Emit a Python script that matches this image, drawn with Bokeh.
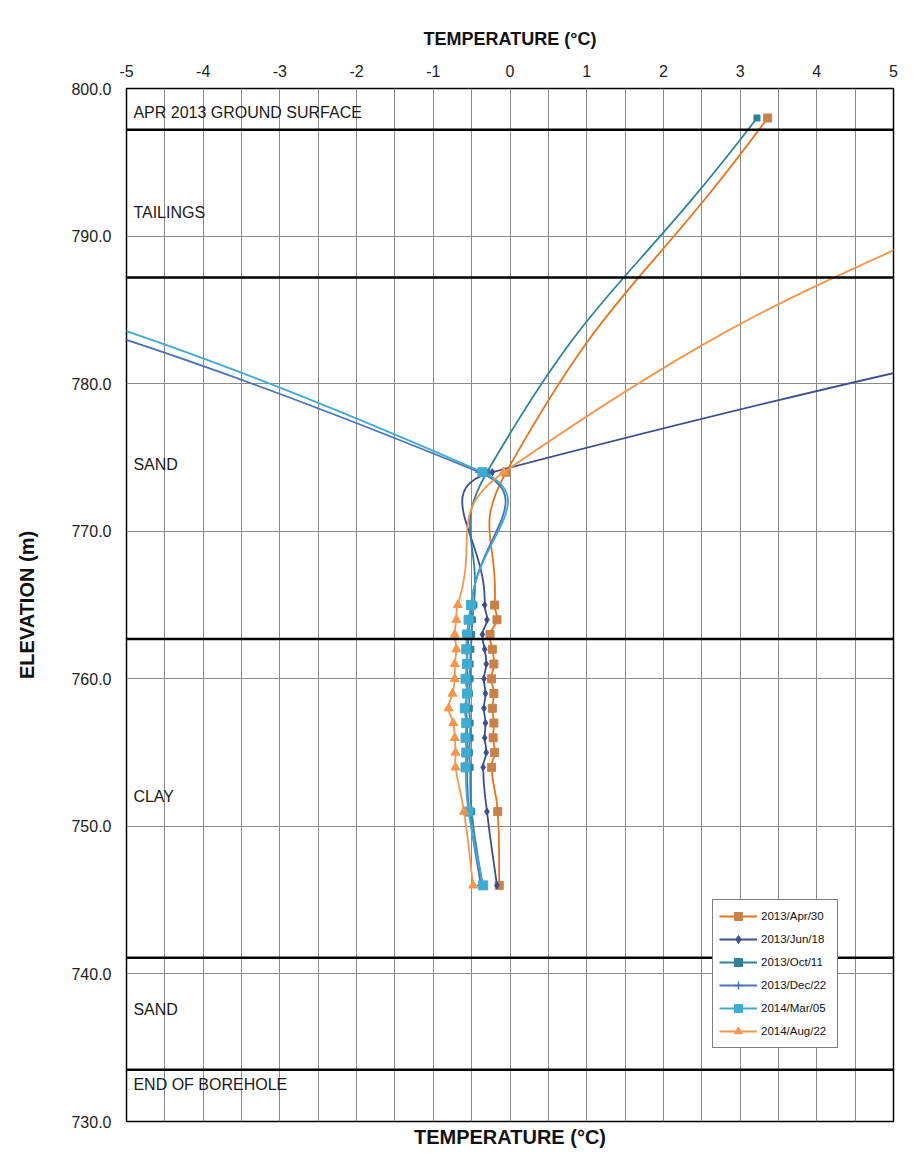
import numpy as np
from bokeh.plotting import figure
from bokeh.models import (LinearAxis, FixedTicker, SingleIntervalTicker, PrintfTickFormatter,
                          Span, Legend, LegendItem, Range1d)
from bokeh.embed import file_html
from bokeh.resources import INLINE
from bokeh.core.properties import value

# ---------------- data ----------------
elevation = [798, 774, 765, 764, 763, 762, 761, 760, 759, 758, 757, 756, 755, 754, 751, 746]
apr30 = [3.36, -0.05, -0.20, -0.17, -0.26, -0.23, -0.21, -0.24, -0.21, -0.23, -0.21, -0.22, -0.20, -0.24, -0.16, -0.14]
jun18 = [24.0, -0.23, -0.33, -0.30, -0.36, -0.33, -0.31, -0.34, -0.32, -0.34, -0.32, -0.33, -0.31, -0.35, -0.30, -0.17]
oct11 = [3.22, -0.30, -0.47, -0.49, -0.50, -0.51, -0.52, -0.52, -0.53, -0.53, -0.52, -0.52, -0.53, -0.52, -0.50, -0.36]
dec22 = [-16.0, -0.40, -0.50, -0.52, -0.54, -0.55, -0.56, -0.55, -0.56, -0.57, -0.56, -0.56, -0.55, -0.56, -0.53, -0.38]
mar05 = [-15.0, -0.36, -0.51, -0.54, -0.56, -0.57, -0.56, -0.58, -0.56, -0.59, -0.57, -0.58, -0.57, -0.58, -0.54, -0.35]
aug22 = [8.5, -0.08, -0.68, -0.70, -0.72, -0.70, -0.72, -0.72, -0.75, -0.80, -0.74, -0.72, -0.71, -0.71, -0.60, -0.48]

series_labels = ["2013/Apr/30", "2013/Jun/18", "2013/Oct/11", "2013/Dec/22", "2014/Mar/05", "2014/Aug/22"]
series_values = [apr30, jun18, oct11, dec22, mar05, aug22]

layer_boundaries = [797.2, 787.2, 762.7, 741.1, 733.5]
layer_label_elev = [798.4, 791.6, 774.5, 752.0, 737.6, 732.5]
layer_labels = ["APR 2013 GROUND SURFACE", "TAILINGS", "SAND", "CLAY", "SAND", "END OF BOREHOLE"]

x_ticks = [-5, -4, -3, -2, -1, 0, 1, 2, 3, 4, 5]
y_ticks = [730, 740, 750, 760, 770, 780, 790, 800]

# ---------------- styles ----------------
line_colors = ["#E8731A", "#3B4F8E", "#2E8399", "#4B72B8", "#40ABD0", "#F7964A"]
marker_colors = ["#C8814A", "#3B4F8E", "#2E8399", "#4B72B8", "#40ABD0", "#F7964A"]
markers = ["square", "diamond", "square", "cross", "square", "triangle"]
marker_sizes = [8, 7, 6, 8, 9, 9]

FONT = "Liberation Sans"
W, H = 913, 1153
ML, MR, MT, MB = 126, 20, 88, 32
X0, X1, Y0, Y1 = -5, 5, 730, 800
SX = (W - ML - MR) / (X1 - X0)
SY = (H - MT - MB) / (Y1 - Y0)

p = figure(width=W, height=H, x_range=Range1d(X0, X1), y_range=Range1d(Y0, Y1),
           x_axis_location="above", output_backend="svg", toolbar_location=None,
           min_border_left=ML, min_border_right=MR, min_border_top=MT, min_border_bottom=MB,
           background_fill_color="white", border_fill_color="white")

p.outline_line_color = "black"
p.outline_line_width = 1.5

# top axis
xa = p.xaxis[0]
xa.ticker = FixedTicker(ticks=x_ticks)
xa.formatter = PrintfTickFormatter(format="%d")
xa.axis_label = "TEMPERATURE (°C)"
xa.axis_label_text_font = FONT
xa.axis_label_text_font_style = "bold"
xa.axis_label_text_font_size = "18px"
xa.axis_label_text_color = "#111111"
xa.axis_label_standoff = 13
xa.major_label_text_font = FONT
xa.major_label_text_font_size = "16px"
xa.major_label_text_color = "#222222"
xa.major_label_standoff = 12
xa.major_tick_out = 0
xa.major_tick_in = 0
xa.minor_tick_out = 0
xa.minor_tick_in = 0
xa.axis_line_color = None

# bottom axis (title only)
xb = LinearAxis(ticker=FixedTicker(ticks=[]), axis_label="TEMPERATURE (°C)")
xb.axis_label_text_font = FONT
xb.axis_label_text_font_style = "bold"
xb.axis_label_text_font_size = "20px"
xb.axis_label_text_color = "#111111"
xb.axis_label_standoff = 4
xb.major_tick_out = 0
xb.minor_tick_out = 0
xb.axis_line_color = None
p.add_layout(xb, "below")

# left axis
ya = p.yaxis[0]
ya.ticker = FixedTicker(ticks=y_ticks)
ya.formatter = PrintfTickFormatter(format="%.1f")
ya.axis_label = "ELEVATION (m)"
ya.axis_label_text_font = FONT
ya.axis_label_text_font_style = "bold"
ya.axis_label_text_font_size = "20px"
ya.axis_label_text_color = "#111111"
ya.axis_label_standoff = 30
ya.major_label_text_font = FONT
ya.major_label_text_font_size = "16px"
ya.major_label_text_color = "#222222"
ya.major_label_standoff = 15
ya.major_tick_out = 0
ya.major_tick_in = 0
ya.minor_tick_out = 0
ya.minor_tick_in = 0
ya.axis_line_color = None

# grids
p.xgrid.ticker = SingleIntervalTicker(interval=0.5)
p.ygrid.ticker = SingleIntervalTicker(interval=10)
p.xgrid.grid_line_color = "#8a8a8a"
p.ygrid.grid_line_color = "#8a8a8a"
p.xgrid.grid_line_width = 1
p.ygrid.grid_line_width = 1

# layer boundaries
for e in layer_boundaries:
    p.add_layout(Span(location=e, dimension="width", line_color="black", line_width=2.5))

# layer labels
p.text(x=[X0 + 0.09] * len(layer_labels), y=layer_label_elev, text=layer_labels,
       text_font=value(FONT), text_font_size="16px", text_baseline="middle",
       text_align="left", text_color="#1a1a1a")


def smooth_segments(xs, ys, k=0.5):
    """Bezier control points for a smoothed line through the points (rendering only)."""
    P = np.column_stack([np.asarray(xs, float) * SX, np.asarray(ys, float) * SY])
    n = len(P)
    T = np.zeros_like(P)
    for i in range(n):
        d = P[min(i + 1, n - 1)] - P[max(i - 1, 0)]
        T[i] = d / np.linalg.norm(d)
    x0, y0, x1, y1, cx0, cy0, cx1, cy1 = ([] for _ in range(8))
    for i in range(n - 1):
        L = np.linalg.norm(P[i + 1] - P[i])
        c0 = P[i] + T[i] * L * k
        c1 = P[i + 1] - T[i + 1] * L * k
        x0.append(P[i][0] / SX); y0.append(P[i][1] / SY)
        x1.append(P[i + 1][0] / SX); y1.append(P[i + 1][1] / SY)
        cx0.append(c0[0] / SX); cy0.append(c0[1] / SY)
        cx1.append(c1[0] / SX); cy1.append(c1[1] / SY)
    return dict(x0=x0, y0=y0, x1=x1, y1=y1, cx0=cx0, cy0=cy0, cx1=cx1, cy1=cy1)


items = []
for lab, vals, lc, mc, mk, ms in zip(series_labels, series_values, line_colors,
                                     marker_colors, markers, marker_sizes):
    seg = smooth_segments(vals, elevation)
    b = p.bezier(x0=seg["x0"], y0=seg["y0"], x1=seg["x1"], y1=seg["y1"],
                 cx0=seg["cx0"], cy0=seg["cy0"], cx1=seg["cx1"], cy1=seg["cy1"],
                 line_color=lc, line_width=1.8)
    s = p.scatter(x=vals, y=elevation, marker=mk, size=ms, fill_color=mc,
                  line_color=mc, line_width=1.5 if mk == "cross" else 1)
    items.append(LegendItem(label=lab, renderers=[b, s]))

legend = Legend(items=items, location=(586, 73))
legend.label_text_font = FONT
legend.label_text_font_size = "11.5px"
legend.label_text_color = "#111111"
legend.glyph_width = 38
legend.glyph_height = 20
legend.label_height = 20
legend.label_width = 70
legend.spacing = 3
legend.padding = 6
legend.margin = 0
legend.label_standoff = 4
legend.border_line_color = "black"
legend.border_line_width = 1
legend.background_fill_color = "white"
legend.background_fill_alpha = 1
p.add_layout(legend)

open("out.html", "w").write(file_html(p, INLINE))
